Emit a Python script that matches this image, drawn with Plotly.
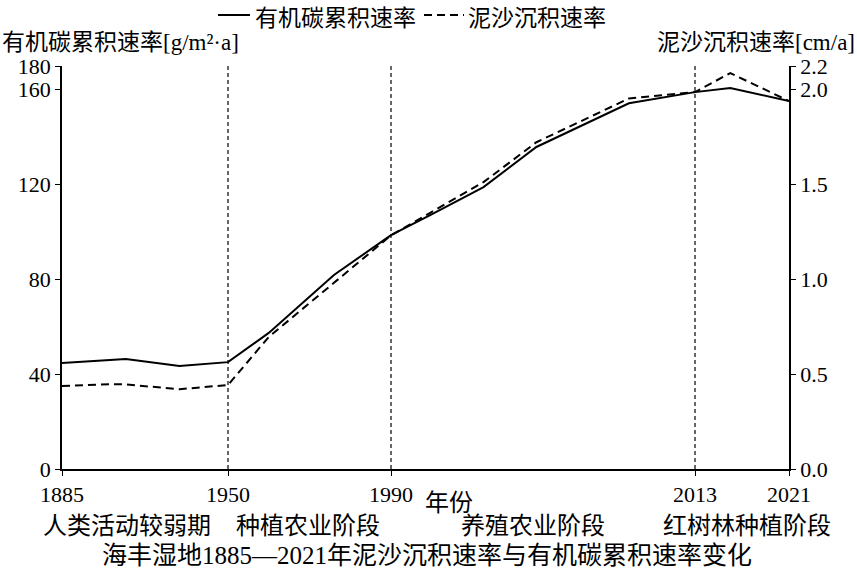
import numpy as np
import plotly.graph_objects as go

# %% Data
years = [1885, 1904, 1910, 1931, 1950, 1960, 1976, 1990, 1993, 1997, 2001, 2008, 2013, 2016, 2021]
carbon_rate = [44.6, 45.8, 46.3, 43.4, 45.0, 57.3, 81.7, 98.5, 107.0, 118.7, 135.6, 154.0, 158.7, 160.4, 155.0]
sediment_rate = [0.437, 0.447, 0.445, 0.420, 0.442, 0.695, 0.980, 1.230, 1.350, 1.510, 1.720, 1.950, 1.984, 2.084, 1.937]

tick_years = [1885, 1950, 1990, 2013, 2021]
divider_years = [1950, 1990, 2013]
stage_names = ['人类活动较弱期', '种植农业阶段', '养殖农业阶段', '红树林种植阶段']

left_ticks = [0, 40, 80, 120, 160]
right_ticks = [0.0, 0.5, 1.0, 1.5, 2.0]

# %% The year axis is not linear in the original: each period gets its own width
tick_pos = [0, 166, 329, 633, 727]


def xpos(yr):
    return np.interp(yr, tick_years, tick_pos)


# plot area in page pixels
W, H = 857, 580
L, R, T, B = 62, 789, 66, 469


def px(x):
    return (x - L) / (R - L)


def py(y):
    return (B - y) / (B - T)


serif = 'Liberation Serif, Noto Sans CJK SC'
cjk = 'Noto Sans CJK SC'
top_val = 169.7  # the "180" / "2.2" labels sit at the very top of the axes

fig = go.Figure()
fig.add_trace(go.Scatter(x=xpos(years), y=carbon_rate, mode='lines',
                         line=dict(color='black', width=2), name='有机碳累积速率',
                         showlegend=False))
fig.add_trace(go.Scatter(x=xpos(years), y=sediment_rate, mode='lines', yaxis='y2',
                         line=dict(color='black', width=2, dash='8px,5px'), name='泥沙沉积速率',
                         showlegend=False))

for yr in divider_years:
    fig.add_shape(type='line', x0=xpos(yr), x1=xpos(yr), y0=0, y1=1, yref='paper',
                  line=dict(color='black', width=1.2, dash='4px,3px'))

#%% Formatting
fig.update_layout(width=W, height=H, autosize=False,
                  margin=dict(l=L, r=W - R, t=T, b=H - B),
                  plot_bgcolor='white', paper_bgcolor='white',
                  font=dict(family=serif, size=22, color='black'))

axis_style = dict(showgrid=False, zeroline=False, showline=True, linecolor='black', linewidth=1.5,
                  ticks='outside', ticklen=5, tickcolor='black', automargin=False,
                  tickfont=dict(family=serif, size=22))

fig.update_xaxes(range=[0, 727], tickvals=xpos(tick_years), ticktext=[str(y) for y in tick_years],
                 **axis_style)

fig.update_layout(
    yaxis=dict(range=[0, top_val], tickvals=left_ticks + [top_val],
               ticktext=[str(v) for v in left_ticks] + ['180'], **axis_style),
    yaxis2=dict(range=[0, top_val / 80], tickvals=right_ticks + [top_val / 80],
                ticktext=['%.1f' % v for v in right_ticks] + ['2.2'],
                overlaying='y', side='right', **axis_style))

# legend drawn as in the original: short line sample followed by text
fig.add_shape(type='line', xref='paper', yref='paper', x0=px(218), x1=px(250), y0=py(15), y1=py(15),
              line=dict(color='black', width=2))
fig.add_shape(type='line', xref='paper', yref='paper', x0=px(424), x1=px(464), y0=py(15), y1=py(15),
              line=dict(color='black', width=2, dash='8px,5px'))

ann = [
    ('有机碳累积速率', 253, 16, 'left', cjk, 23),
    ('泥沙沉积速率', 466, 16, 'left', cjk, 23),
    ('有机碳累积速率[g/m²·a]', 0, 42, 'left', serif, 23),
    ('泥沙沉积速率[cm/a]', W, 42, 'right', serif, 23),
    ('年份', 449, 500, 'center', cjk, 24),
    ('海丰湿地1885—2021年泥沙沉积速率与有机碳累积速率变化', 427, 555, 'center', serif, 25),
]
for cx, name in zip([127, 308, 533, 747], stage_names):
    ann.append((name, cx, 523, 'center', cjk, 24))

for text, x, y, anchor, fam, size in ann:
    fig.add_annotation(text=text, x=px(x), y=py(y), xref='paper', yref='paper',
                       xanchor=anchor, yanchor='middle', showarrow=False,
                       font=dict(family=fam, size=size))

# drop the browser's default page margin so the figure starts at the window corner
fig.write_html("out.html", config={'displayModeBar': False},
               post_script="document.body.style.margin='0';")
